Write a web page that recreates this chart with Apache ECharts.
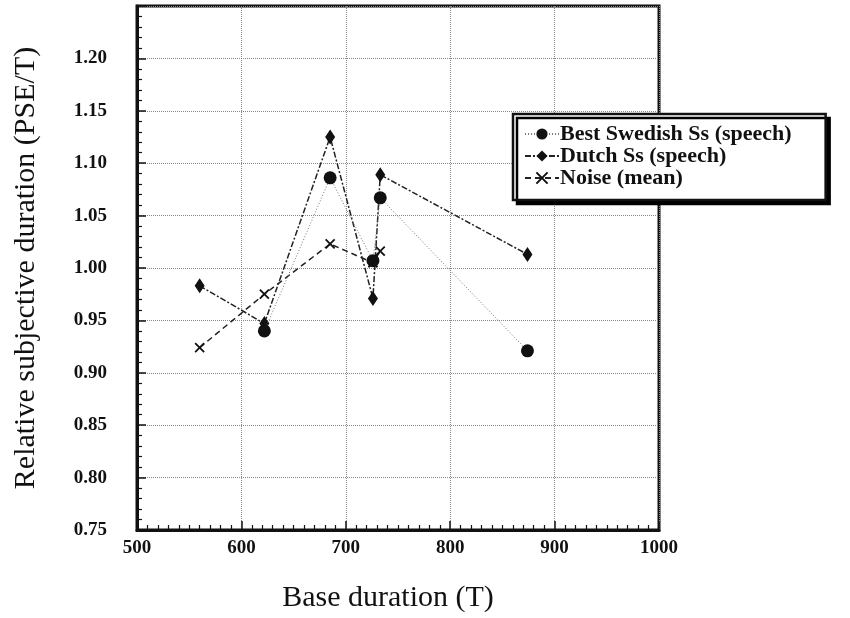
<!DOCTYPE html>
<html>
<head>
<meta charset="utf-8">
<script src="https://cdn.jsdelivr.net/npm/echarts@6/dist/echarts.min.js"></script>
<style>
  html, body { margin: 0; padding: 0; background: #fff; }
  #chart { width: 850px; height: 618px; }
</style>
</head>
<body>
<div id="chart"></div>
<script>
// Base durations (T) and relative subjective durations (PSE/T) per group
const swedishBase = [622, 685, 726, 733, 874];
const swedishPSE  = [0.940, 1.086, 1.007, 1.067, 0.921];

const dutchBase = [560, 622, 685, 726, 733, 874];
const dutchPSE  = [0.983, 0.947, 1.125, 0.971, 1.089, 1.013];

const noiseBase = [560, 622, 685, 726, 733];
const noisePSE  = [0.924, 0.975, 1.023, 1.005, 1.016];

const seriesNames = ['Best Swedish Ss (speech)', 'Dutch Ss (speech)', 'Noise (mean)'];

const xTicks = [500, 600, 700, 800, 900, 1000];
const yTickLabels = ['0.75', '0.80', '0.85', '0.90', '0.95', '1.00', '1.05', '1.10', '1.15', '1.20'];

const pairs = (xs, ys) => xs.map((x, i) => [x, ys[i]]);

const serif = '"Liberation Serif", "DejaVu Serif", serif';
const ink = '#111';

const chart = echarts.init(document.getElementById('chart'), null, { renderer: 'canvas' });

chart.setOption({
  backgroundColor: '#fff',
  animation: false,
  grid: {
    left: 137, top: 6, width: 522, height: 525,
    show: true, borderColor: ink, borderWidth: 3, backgroundColor: 'transparent'
  },
  legend: {
    orient: 'vertical',
    left: 513, top: 114,
    padding: [9, 34, 11, 11],
    itemWidth: 34, itemHeight: 14, itemGap: 0,
    backgroundColor: '#fff',
    borderColor: ink, borderWidth: 2.5,
    shadowColor: '#000', shadowBlur: 0, shadowOffsetX: 4, shadowOffsetY: 4,
    textStyle: { fontFamily: serif, fontSize: 22, fontWeight: 'bold', color: ink, padding: [0, 0, 0, -4] },
    data: seriesNames
  },
  xAxis: {
    type: 'value',
    min: xTicks[0], max: xTicks[xTicks.length - 1], interval: 100,
    name: 'Base duration (T)',
    nameLocation: 'middle', nameGap: 53,
    nameTextStyle: { fontFamily: serif, fontSize: 30, color: ink, padding: [0, 20, 0, 0] },
    axisLine: { show: true, onZero: false, lineStyle: { color: ink, width: 3 } },
    axisTick: { show: true, inside: true, length: 9, lineStyle: { color: ink, width: 1.5 } },
    minorTick: { show: true, splitNumber: 10, length: 5, lineStyle: { color: ink, width: 1.2 } },
    axisLabel: {
      margin: 9, fontFamily: serif, fontSize: 19, fontWeight: 'bold', color: ink,
      formatter: v => xTicks.includes(v) ? String(v) : ''
    },
    splitLine: { show: true, lineStyle: { color: '#888', width: 1, type: [1, 1] } }
  },
  yAxis: {
    type: 'value',
    min: 0.75, max: 1.25, interval: 0.05,
    name: 'Relative subjective duration (PSE/T)',
    nameLocation: 'middle', nameGap: 96,
    nameTextStyle: { fontFamily: serif, fontSize: 30, color: ink },
    axisLine: { show: true, onZero: false, lineStyle: { color: ink, width: 3 } },
    axisTick: { show: true, inside: true, length: 9, lineStyle: { color: ink, width: 1.5 } },
    minorTick: { show: true, splitNumber: 5, length: 5, lineStyle: { color: ink, width: 1.2 } },
    axisLabel: {
      margin: 30, fontFamily: serif, fontSize: 19, fontWeight: 'bold', color: ink,
      formatter: v => {
        const s = v.toFixed(2);
        return yTickLabels.includes(s) ? s : '';
      }
    },
    splitLine: { show: true, lineStyle: { color: '#888', width: 1, type: [1, 1] } }
  },
  series: [
    {
      name: seriesNames[0],
      type: 'line',
      data: pairs(swedishBase, swedishPSE),
      symbol: 'circle', symbolSize: 13,
      lineStyle: { color: '#777', width: 1, type: [1, 2] },
      itemStyle: { color: ink, borderColor: ink, borderWidth: 0 },
      z: 4
    },
    {
      name: seriesNames[1],
      type: 'line',
      data: pairs(dutchBase, dutchPSE),
      symbol: 'diamond', symbolSize: [10, 15],
      lineStyle: { color: '#222', width: 1.5, type: [6, 2, 2, 2] },
      itemStyle: { color: ink, borderColor: ink, borderWidth: 0 },
      z: 3
    },
    {
      name: seriesNames[2],
      type: 'line',
      data: pairs(noiseBase, noisePSE),
      symbol: 'path://M0,0L10,10M10,0L0,10', symbolSize: 9,
      lineStyle: { color: '#222', width: 1.5, type: [6, 4] },
      itemStyle: { color: 'none', borderColor: ink, borderWidth: 1.8 },
      z: 2
    }
  ]
});
</script>
</body>
</html>
